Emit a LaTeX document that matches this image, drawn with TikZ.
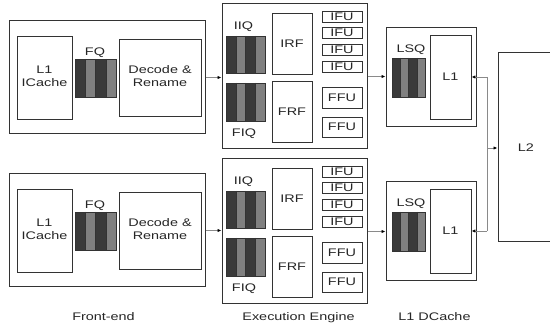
\documentclass[tikz,border=0pt]{standalone}
\usepackage{fontspec}
\setmainfont{Liberation Sans}
\usetikzlibrary{arrows.meta,calc}
\definecolor{qdark}{HTML}{3A3A3A}
\definecolor{qgray}{HTML}{808080}
\definecolor{edge}{HTML}{333333}
\definecolor{wire}{HTML}{8A8A8A}
\newcommand\stx[1]{\scalebox{1.31}[1]{#1}}
\newcommand\two[2]{\stx{\begin{tabular}{@{}c@{}}#1\\#2\end{tabular}}}
% \bx[style]{name}{x1}{y1}{x2}{y2}{text}
\newcommand\bx[7][]{%
  \pgfmathsetmacro\bW{(#5)-(#3)}\pgfmathsetmacro\bH{(#6)-(#4)}%
  \node[box,#1,minimum width=\bW pt,minimum height=\bH pt] (#2) at ({((#3)+(#5))/2},{((#4)+(#6))/2}) {#7};}
% \queue{name}{x1}{y1}{x2}{y2}
\newcommand\queue[5]{%
  \pgfmathsetmacro\qw{((#4)-(#2))/4}%
  \foreach \i/\c in {0/qdark,1/qgray,2/qdark,3/qgray}{%
    \fill[\c] ({#2+\i*\qw},{#3}) rectangle ({#2+(\i+1)*\qw},{#5});}%
  \foreach \i in {1,2,3}{\draw[edge,line width=0.5pt] ({#2+\i*\qw},{#3}) -- ({#2+\i*\qw},{#5});}%
  \pgfmathsetmacro\bW{(#4)-(#2)}\pgfmathsetmacro\bH{(#5)-(#3)}%
  \node[draw=edge,line width=0.9pt,inner sep=0pt,minimum width=\bW pt,minimum height=\bH pt] (#1) at ({((#2)+(#4))/2},{((#3)+(#5))/2}) {};}
\tikzset{
  box/.style={draw=edge,line width=0.9pt,inner sep=0pt,align=center,
    font=\fontsize{11}{12.7}\selectfont,text=black!85},
  outer/.style={line width=1pt},
  lbl/.style={inner sep=0pt,text height=7.9pt,text depth=0pt,
    font=\fontsize{11}{12.7}\selectfont,text=black!85},
  wire/.style={draw=wire,line width=0.9pt},
  arr/.style={wire,-{Latex[length=4pt,width=3.4pt,color=black]}}
}
\begin{document}
\begin{tikzpicture}[x=1pt,y=-1pt]
\path[use as bounding box,clip] (0,0) rectangle (550,326);
\fill[white] (0,0) rectangle (550,326);
% ---------- front-ends ----------
\foreach \s/\n in {0/a,153/b}{
  \bx[outer]{fe\n}{9}{21+\s}{205}{134+\s}{}
  \bx{ic\n}{17}{36+\s}{72}{119+\s}{\two{L1}{ICache}}
  \node[lbl] (fql\n) at (95,51.5+\s) {\stx{FQ}};
  \queue{fq\n}{75}{59+\s}{116}{97+\s}
  \bx{dr\n}{119}{39+\s}{201}{116+\s}{\two{Decode \&}{Rename}}
}
% ---------- execution engines ----------
\foreach \s/\n in {0/a,155/b}{
  \bx[outer]{ex\n}{222}{4+\s}{367}{149+\s}{}
  \node[lbl] (iql\n) at (243.5,25.5+\s) {\stx{IIQ}};
  \queue{iq\n}{226}{36+\s}{265}{73+\s}
  \queue{fiq\n}{226}{83+\s}{265}{121+\s}
  \node[lbl] (fiql\n) at (244,133+\s) {\stx{FIQ}};
  \bx{irf\n}{272}{13+\s}{312}{74+\s}{\stx{IRF}}
  \bx{frf\n}{272}{81+\s}{312}{142+\s}{\stx{FRF}}
  \bx{ifua\n}{322}{11+\s}{362}{22+\s}{\stx{IFU}}
  \bx{ifub\n}{322}{27.5+\s}{362}{38.5+\s}{\stx{IFU}}
  \bx{ifuc\n}{322}{44+\s}{362}{55+\s}{\stx{IFU}}
  \bx{ifud\n}{322}{61+\s}{362}{72+\s}{\stx{IFU}}
  \bx{ffua\n}{322}{87+\s}{362}{108+\s}{\stx{FFU}}
  \bx{ffub\n}{322}{117+\s}{362}{137+\s}{\stx{FFU}}
}
% ---------- L1 data caches ----------
\foreach \s/\n in {0/a,154/b}{
  \bx[outer]{ld\n}{386}{28+\s}{476}{127+\s}{}
  \node[lbl] (lsql\n) at (411,49+\s) {\stx{LSQ}};
  \queue{lsq\n}{392}{58+\s}{425}{97+\s}
  \bx{lo\n}{430}{35+\s}{471}{119+\s}{\stx{L1}}
}
% ---------- L2 ----------
\bx[outer]{l2}{498}{53}{562}{242}{}
\node[lbl] (l2l) at (526,148) {\stx{L2}};
% ---------- connectors ----------
\foreach \n in {a,b}{
  \draw[arr] (fe\n.east) -- (fe\n.east -| ex\n.west);
  \draw[arr] (ex\n.east) -- (ex\n.east -| ld\n.west);
}
\coordinate (j1) at (487,77);
\coordinate (j2) at (487,231);
\coordinate (jm) at (487,148);
\draw[wire] (j1) -- (j2);
\draw[arr] (j1) -- (j1 -| loa.east);
\draw[arr] (j2) -- (j2 -| lob.east);
\draw[arr] (jm) -- (jm -| l2.west);
% ---------- captions ----------
\node[lbl] (cfe) at (103.5,316.5) {\stx{Front-end}};
\node[lbl] (cex) at (298.5,316.5) {\stx{Execution Engine}};
\node[lbl] (cld) at (434.5,316.5) {\stx{L1 DCache}};
\end{tikzpicture}
\end{document}
